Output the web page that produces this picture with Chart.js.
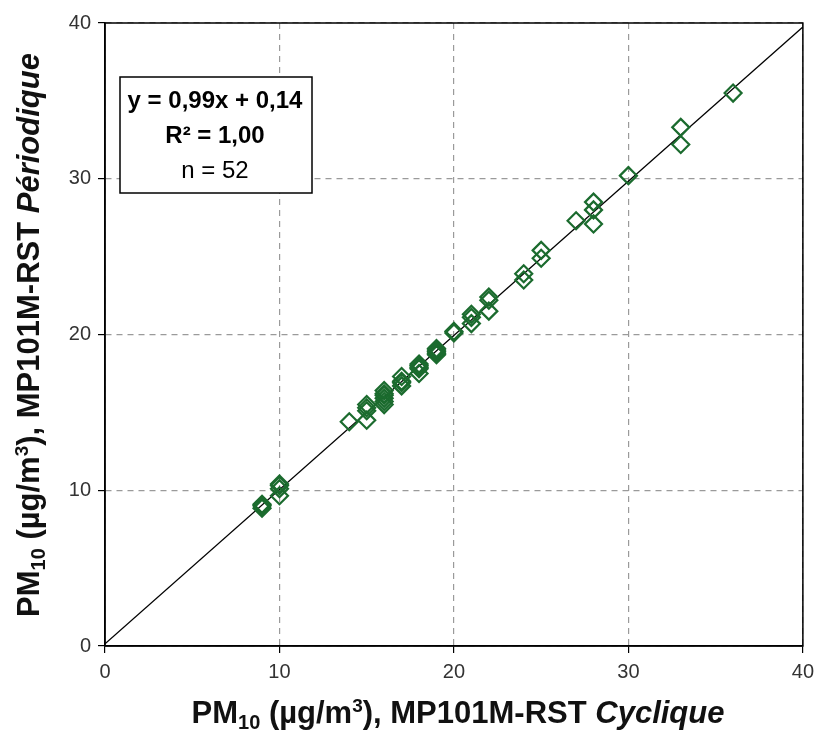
<!DOCTYPE html>
<html>
<head>
<meta charset="utf-8">
<script src="https://cdn.jsdelivr.net/npm/chart.js@4.4.1/dist/chart.umd.min.js"></script>
<style>
  html, body { margin: 0; padding: 0; background: #fff; }
  #wrap { width: 821px; height: 731px; position: relative; }
</style>
</head>
<body>
<div id="wrap"><canvas id="scatter"></canvas></div>
<script>
// Valeurs (x = Cyclique, y = Périodique)
const cycliqueX = [
  9, 9, 10, 10, 10, 14, 15, 15, 15, 16, 16, 16, 17, 17, 18, 18, 18, 19, 19,
  20, 21, 21, 22, 22, 24, 24, 25, 25, 27, 28, 28, 28, 30, 33, 33, 36,
  9, 10, 15, 16, 16, 17, 17, 18, 18, 19, 19, 19, 20, 21, 22, 16
];
const periodiqueY = [
  9.1, 8.85, 10.4, 9.65, 10.1, 14.4, 15.5, 14.5, 15.1, 16.4, 15.5, 15.9, 17.3, 16.7, 18.1, 17.5, 17.8, 18.8, 19.0,
  20.2, 21.3, 20.7, 22.4, 21.5, 23.9, 23.5, 25.4, 24.9, 27.3, 28.5, 28.0, 27.1, 30.2, 33.3, 32.2, 35.5,
  9.0, 10.3, 15.3, 16.1, 16.2, 17.0, 16.9, 17.9, 18.0, 18.9, 18.7, 19.1, 20.1, 21.1, 22.2, 15.7
];
const fitSlope = 0.99;
const fitIntercept = 0.14;
const axisTicks = [0, 10, 20, 30, 40];
const statLines = ["y = 0,99x + 0,14", "R² = 1,00", "n = 52"];

const FONT = '"Liberation Sans", Arial, sans-serif';
const green = '#1b6b2e';

// dessine un texte en plusieurs morceaux (indices, exposants, italique)
function drawRuns(ctx, runs, cx, cy) {
  let total = 0;
  runs.forEach(r => { ctx.font = r.font; r.w = ctx.measureText(r.text).width; total += r.w; });
  let x = cx - total / 2;
  ctx.textBaseline = 'alphabetic';
  ctx.textAlign = 'left';
  runs.forEach(r => {
    ctx.font = r.font;
    ctx.fillText(r.text, x, cy + (r.dy || 0));
    x += r.w;
  });
}

function titleRuns(label) {
  const b = 'bold 31px ' + FONT;
  return [
    { text: 'PM', font: b },
    { text: '10', font: 'bold 20px ' + FONT, dy: 6 },
    { text: ' (µg/m', font: b },
    { text: '3', font: 'bold 19px ' + FONT, dy: -11 },
    { text: '), MP101M-RST ', font: b },
    { text: label, font: 'italic bold 31px ' + FONT }
  ];
}

const decorPlugin = {
  id: 'decor',
  afterDraw(chart) {
    const ctx = chart.ctx;
    const a = chart.chartArea;
    ctx.save();
    // cadre complet
    ctx.strokeStyle = '#000';
    ctx.lineWidth = 1.5;
    ctx.strokeRect(a.left, a.top, a.right - a.left, a.bottom - a.top);

    // titres des axes
    ctx.fillStyle = '#111';
    drawRuns(ctx, titleRuns('Cyclique'), 458, 723);
    ctx.save();
    ctx.translate(39, 335);
    ctx.rotate(-Math.PI / 2);
    drawRuns(ctx, titleRuns('Périodique'), 0, 0);
    ctx.restore();

    // encadré équation
    ctx.fillStyle = '#fff';
    ctx.fillRect(120, 77, 192, 116);
    ctx.strokeStyle = '#000';
    ctx.lineWidth = 1.5;
    ctx.strokeRect(120, 77, 192, 116);
    ctx.fillStyle = '#000';
    ctx.textAlign = 'center';
    ctx.textBaseline = 'middle';
    ctx.font = 'bold 24px ' + FONT;
    ctx.fillText(statLines[0], 215, 101);
    ctx.fillText(statLines[1], 215, 136);
    ctx.font = '24px ' + FONT;
    ctx.fillText(statLines[2], 215, 171);
    ctx.restore();
  }
};

const points = cycliqueX.map((x, i) => ({ x: x, y: periodiqueY[i] }));
const fitLine = [0, 40].map(x => ({ x: x, y: fitSlope * x + fitIntercept }));

function axis(extra) {
  return Object.assign({
    type: 'linear', min: 0, max: 40,
    afterBuildTicks: s => { s.ticks = axisTicks.map(v => ({ value: v })); },
    ticks: { color: '#333', font: { family: FONT, size: 20 }, padding: 7 },
    grid: {
      color: '#9a9a9a', lineWidth: 1.2, tickLength: 7,
      tickColor: '#000', tickWidth: 1.2, tickBorderDash: [], drawTicks: true
    },
    border: { display: true, color: '#000', width: 1.5, dash: [6, 5] }
  }, extra);
}

new Chart(document.getElementById('scatter'), {
  type: 'scatter',
  data: {
    datasets: [
      {
        label: 'Régression', type: 'line', data: fitLine,
        borderColor: '#000', borderWidth: 1.4, pointRadius: 0, fill: false, order: 2
      },
      {
        label: 'PM10', data: points,
        pointStyle: 'rectRot', pointRadius: 8.5, pointBorderWidth: 2.2,
        borderColor: green, backgroundColor: 'rgba(0,0,0,0)',
        pointHoverRadius: 8.5, order: 1
      }
    ]
  },
  options: {
    responsive: true, maintainAspectRatio: false, animation: false,
    layout: { padding: { top: 23, right: 15, left: 0, bottom: 0 } },
    plugins: { legend: { display: false }, tooltip: { enabled: false } },
    scales: {
      x: axis({ position: 'bottom', afterFit: s => { s.height = 85; } }),
      y: axis({ position: 'left', afterFit: s => { s.width = 105; } })
    }
  },
  plugins: [decorPlugin]
});
</script>
</body>
</html>
